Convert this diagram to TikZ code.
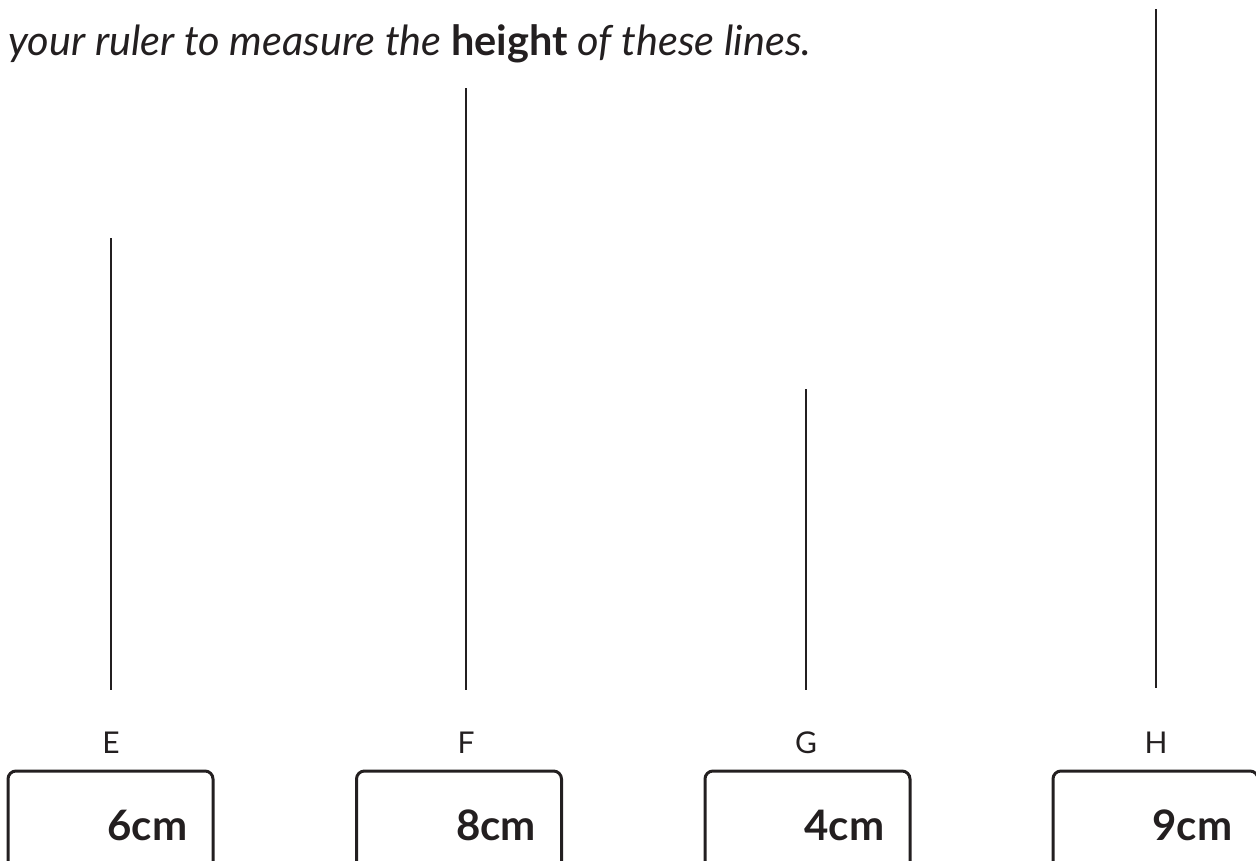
\documentclass[tikz,border=0pt]{standalone}
\usepackage{fontspec}
\setmainfont{Lato}
\definecolor{InkGrey}{RGB}{35, 31, 32}
\usepackage{tikz}
\usetikzlibrary{positioning}

\tikzset{
  mline/.style={line width=2.5pt, InkGrey},
  answerbox/.style={draw=InkGrey, line width=3pt, rounded corners=8pt, minimum width=205pt, minimum height=110pt, inner sep=0pt},
  letter/.style={font=\fontsize{30}{30}\selectfont, text=InkGrey, anchor=base, inner sep=0pt},
  answer/.style={font=\fontsize{42}{42}\selectfont\bfseries, text=InkGrey, anchor=base, inner sep=0pt}
}

\begin{document}
\begin{tikzpicture}[x=1pt, y=-1pt]
    \useasboundingbox (0,0) rectangle (1256,860);

    % Instruction
    \node[anchor=base west, inner sep=0pt, text=InkGrey, font=\fontsize{41.5}{41.5}\selectfont\itshape] (title) at (8,55) {your ruler to measure the {\upshape\bfseries height} of these lines.};

    % Lines, letters and answer boxes
    \foreach \n/\x/\t/\b/\bx/\ans in {E/111/238/690/110.5/6cm, F/466/88/690/459/8cm, G/806/389/690/807.5/4cm, H/1156/9/688/1155.5/9cm} {
        \coordinate (\n-top) at (\x,\t);
        \coordinate (\n-bot) at (\x,\b);
        \draw[mline] (\n-top) -- (\n-bot);
        \node[letter] (lbl-\n) at (\x,753) {\n};
        \node[answerbox] (box-\n) at (\bx,826) {};
        \node[answer] (ans-\n) at (\bx+37,840) {\ans};
    }
\end{tikzpicture}
\end{document}
